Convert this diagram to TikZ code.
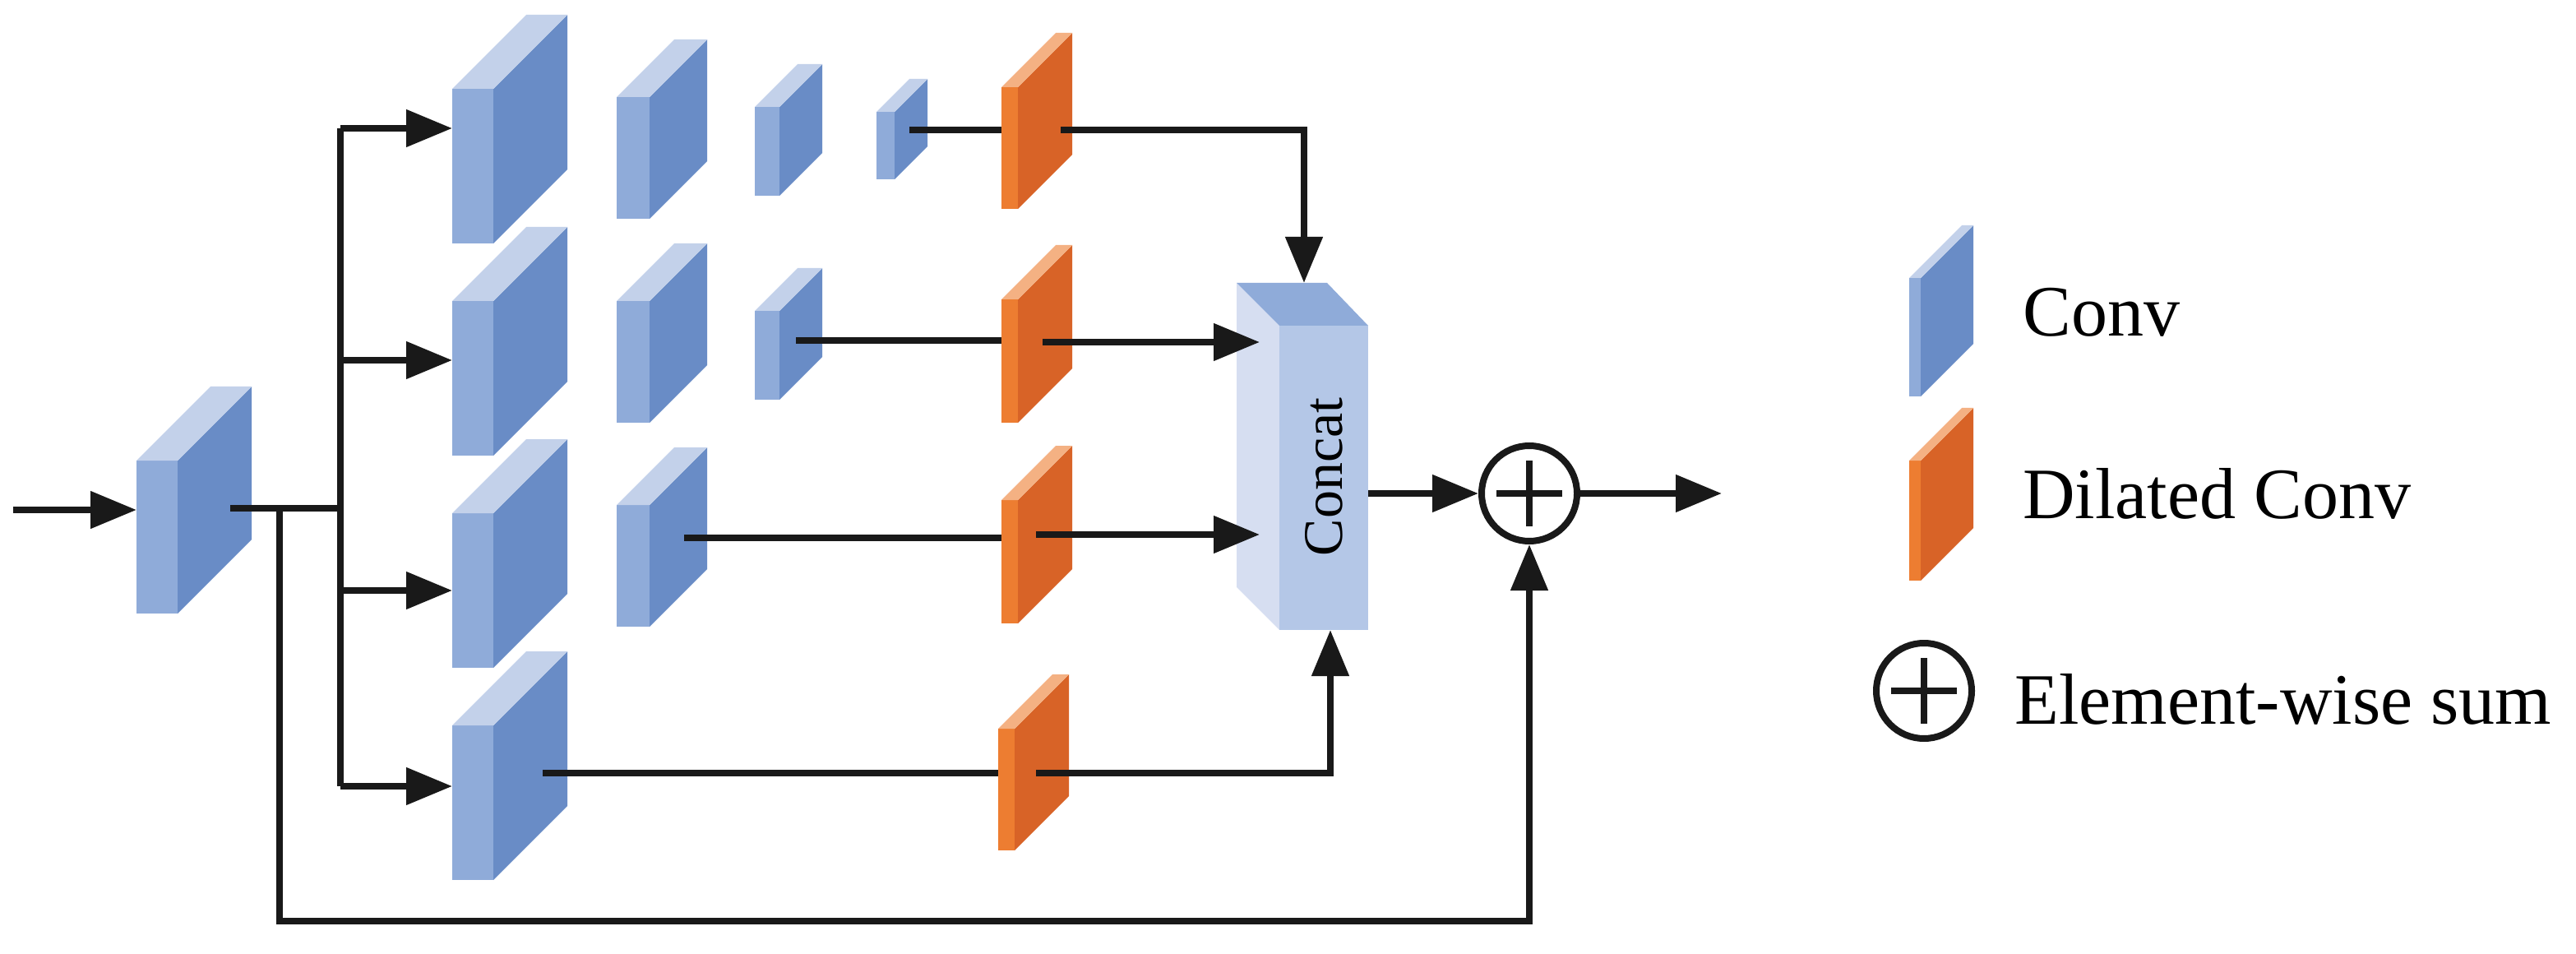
\documentclass[tikz,border=0pt]{standalone}
\usepackage{fontspec}
\setmainfont{Liberation Serif}
\usetikzlibrary{arrows.meta}
\definecolor{cfront}{HTML}{8FABD9}
\definecolor{cside}{HTML}{698CC6}
\definecolor{ctop}{HTML}{C3D1EA}
\definecolor{dfront}{HTML}{ED7D31}
\definecolor{dside}{HTML}{D86327}
\definecolor{dtop}{HTML}{F4B183}
\definecolor{kfront}{HTML}{B4C7E7}
\definecolor{kleft}{HTML}{D6DEF1}
% slab: x, top y, width, height, depth, front, side, top
\newcommand{\slab}[8]{%
  \fill[#6] (#1,#2) rectangle ++(#3,#4);
  \fill[#7] (#1+#3,#2) -- ++(#5,-#5) -- ++(0,#4) -- ++(-#5,#5) -- cycle;
  \fill[#8] (#1,#2) -- ++(#5,-#5) -- ++(#3,0) -- ++(-#5,#5) -- cycle;}
\tikzset{
  conn/.style={line width=4pt, draw=black!90},
  arr/.style={conn, -{Triangle[length=28pt,width=22pt]}},
  sum/.style={circle, draw=black!90, line width=4pt, minimum size=58pt, inner sep=0pt,
    path picture={\draw[line width=4pt] (path picture bounding box.north) ++(0,-9pt) -- ++(0,-40pt)
      (path picture bounding box.west) ++(9pt,0) -- ++(40pt,0);}},
  lbl/.style={font=\fontsize{44}{44}\selectfont, anchor=west, inner sep=0pt}
}
\begin{document}
\begin{tikzpicture}[x=1pt,y=-1pt]
\useasboundingbox (0,0) rectangle (1566.5,580);

% input block
\slab{83}{280}{25}{93}{45}{cfront}{cside}{ctop}
% big blocks
\foreach \t in {54,183,312,441}
  \slab{275}{\t}{25}{94}{45}{cfront}{cside}{ctop};
% medium blocks
\foreach \t in {59,183,307}
  \slab{375}{\t}{20}{74}{35}{cfront}{cside}{ctop};
% small blocks
\foreach \t in {65,189}
  \slab{459}{\t}{15}{54}{26}{cfront}{cside}{ctop};
% tiny block
\slab{533}{68}{11}{41}{20}{cfront}{cside}{ctop}
% dilated conv
\slab{609}{53}{10}{74}{33}{dfront}{dside}{dtop}
\slab{609}{182}{10}{75}{33}{dfront}{dside}{dtop}
\slab{609}{304}{10}{75}{33}{dfront}{dside}{dtop}
\slab{607}{443}{10}{74}{33}{dfront}{dside}{dtop}

% concat box
\fill[kleft] (752,172) -- (778,198) -- (778,383) -- (752,357) -- cycle;
\fill[cfront] (752,172) -- (807,172) -- (832,198) -- (778,198) -- cycle;
\fill[kfront] (778,198) rectangle (832,383);
\node[rotate=90, font=\fontsize{34}{34}\selectfont] (concat) at (805,290) {Concat};

% coordinates
\coordinate (in) at (8,310);
\coordinate (inb) at (83,310);
\coordinate (out0) at (140,309);
\coordinate (bus) at (207,309);
\coordinate (skip) at (170,309);
\foreach \y [count=\i] in {78,219,359,478} {
  \coordinate (b\i) at (275,\y);
  \coordinate (bus\i) at (207,\y);
}
\coordinate (r1s) at (553,79);  \coordinate (r1d) at (609,79);
\coordinate (r1o) at (645,79);  \coordinate (r1c) at (793,79);
\coordinate (r1e) at (793,172);
\coordinate (r2s) at (484,207); \coordinate (r2d) at (609,207);
\coordinate (r2o) at (634,208); \coordinate (r2e) at (766,208);
\coordinate (r3s) at (416,327); \coordinate (r3d) at (609,327);
\coordinate (r3o) at (630,325); \coordinate (r3e) at (766,325);
\coordinate (r4s) at (330,470); \coordinate (r4d) at (607,470);
\coordinate (r4o) at (630,470); \coordinate (r4c) at (809,470);
\coordinate (r4e) at (809,383);
\coordinate (cout) at (832,300);
\node[sum] (plus) at (930,300) {};
\coordinate (res) at (1047,300);
\coordinate (sk1) at (170,560);
\coordinate (sk2) at (930,560);

% connectors
\draw[arr] (in) -- (inb);
\draw[conn] (out0) -- (bus);
\draw[conn] (bus1) -- (bus4);
\foreach \i in {1,...,4}
  \draw[arr] (bus\i) -- (b\i);
\draw[conn] (r1s) -- (r1d);
\draw[arr] (r1o) -- (r1c) -- (r1e);
\draw[conn] (r2s) -- (r2d);
\draw[arr] (r2o) -- (r2e);
\draw[conn] (r3s) -- (r3d);
\draw[arr] (r3o) -- (r3e);
\draw[conn] (r4s) -- (r4d);
\draw[arr] (r4o) -- (r4c) -- (r4e);
\draw[arr] (cout) -- (plus);
\draw[arr] (plus) -- (res);
\draw[arr] (skip) -- (sk1) -- (sk2) -- (plus);

% legend
\slab{1161}{169}{7}{72}{32}{cfront}{cside}{ctop}
\slab{1161}{280}{7}{73}{32}{dfront}{dside}{dtop}
\node[sum] (lsum) at (1170,420) {};
\node[lbl] (lconv) at (1230,190) {Conv};
\node[lbl] (ldil) at (1230,300) {Dilated Conv};
\node[lbl] (lsumt) at (1225,425) {Element-wise sum};
\end{tikzpicture}
\end{document}
